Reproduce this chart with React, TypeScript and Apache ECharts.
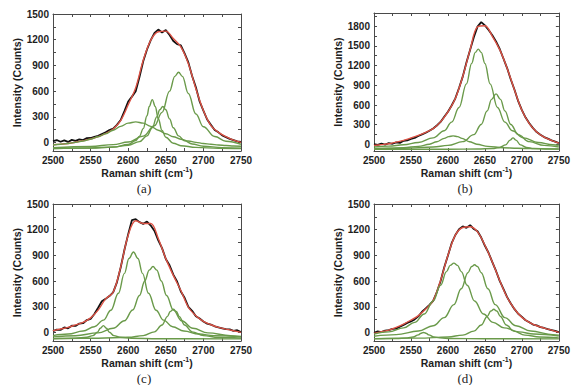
import React, { useEffect, useRef } from "react";
import * as echarts from "echarts";

// sampling positions (Raman shift, cm-1)
const x5 = [2500,2505,2510,2515,2520,2525,2530,2535,2540,2545,2550,2555,2560,2565,2570,2575,2580,2585,2590,2595,2600,2605,2610,2615,2620,2625,2630,2635,2640,2645,2650,2655,2660,2665,2670,2675,2680,2685,2690,2695,2700,2705,2710,2715,2720,2725,2730,2735,2740,2745,2750];
const x10 = [2500,2510,2520,2530,2540,2550,2560,2570,2580,2590,2600,2610,2620,2630,2640,2650,2660,2670,2680,2690,2700,2710,2720,2730,2740,2750];

const xTickLabels = [2500, 2550, 2600, 2650, 2700, 2750];
const yLabels1500 = [0, 300, 600, 900, 1200, 1500];
const yTicks1500 = [0, 150, 300, 450, 600, 750, 900, 1050, 1200, 1350, 1500];
const yLabels1800 = [0, 300, 600, 900, 1200, 1500, 1800];
const yTicks1800 = [0, 150, 300, 450, 600, 750, 900, 1050, 1200, 1350, 1500, 1650, 1800, 1950];

// ---------- panel (a) ----------
const aBlack = [15,28,8,24,6,30,18,36,28,50,52,66,78,98,118,145,162,205,262,365,478,535,598,765,948,1085,1195,1280,1318,1285,1312,1255,1185,1148,1135,1040,935,775,645,478,372,268,205,145,118,82,62,42,28,12,5];
const aFit = [-27,-20,-12,2,20,40,67,105,157,255,440,640,960,1195,1293,1300,1214,1116,920,627,372,196,118,67,27,0];
const aC1 = [-30,-22,-12,1,17,38,66,101,143,188,225,240,225,188,143,101,66,38,17,1,-12,-22,-30,-36,-41,-45];
const aC2 = [[2500,-72],[2550,-67],[2580,-55],[2600,-24],[2610,23],[2615,73],[2620,161],[2625,311],[2628,421],[2632,500],[2636,421],[2640,276],[2645,139],[2650,61],[2660,-10],[2670,-38],[2690,-58],[2720,-68],[2750,-71]];
const aC3 = [[2500,-70],[2550,-65],[2580,-54],[2600,-33],[2615,9],[2625,77],[2632,172],[2638,298],[2642,382],[2646,420],[2650,382],[2655,275],[2660,172],[2667,77],[2675,19],[2685,-18],[2700,-44],[2725,-60],[2750,-66]];
const aC4 = [[2500,-61],[2550,-47],[2580,-26],[2600,5],[2620,74],[2635,195],[2645,351],[2655,599],[2662,772],[2667,820],[2672,772],[2680,572],[2690,332],[2700,183],[2715,69],[2730,14],[2750,-21]];

// ---------- panel (b) ----------
const bBlack = [5,-8,12,-2,20,10,32,24,55,62,85,98,128,152,178,208,242,288,342,422,498,592,702,858,1032,1248,1442,1632,1792,1862,1812,1742,1662,1568,1452,1308,1162,988,832,658,522,408,322,248,188,148,112,88,62,42,20];
const bFit = [-15,-3,10,35,61,98,138,185,240,343,496,700,1033,1442,1790,1805,1646,1442,1160,828,521,317,189,112,61,20];
const bC1 = [[2500,-64],[2520,-59],[2540,-50],[2560,-30],[2575,3],[2585,41],[2595,92],[2601,119],[2607,130],[2613,119],[2619,92],[2629,41],[2639,3],[2654,-30],[2674,-50],[2694,-59],[2714,-64],[2750,-69]];
const bC2 = [[2500,-39],[2520,-26],[2540,-6],[2560,30],[2580,100],[2595,209],[2605,339],[2615,561],[2625,922],[2632,1232],[2637,1401],[2641,1450],[2645,1401],[2650,1232],[2657,922],[2667,561],[2677,339],[2687,209],[2702,100],[2722,30],[2742,-6],[2750,-15]];
const bC3 = [[2500,-65],[2540,-58],[2580,-39],[2600,-15],[2620,42],[2635,149],[2645,304],[2653,510],[2659,686],[2665,770],[2671,686],[2677,510],[2685,304],[2695,149],[2710,42],[2730,-15],[2750,-39]];
const bC4 = [[2500,-75],[2600,-74],[2640,-70],[2660,-62],[2670,-46],[2678,-7],[2684,65],[2688,100],[2692,65],[2698,-7],[2706,-46],[2716,-62],[2736,-70],[2750,-72]];

// ---------- panel (c) ----------
const cBlack = [15,32,30,58,48,78,76,104,108,145,158,215,288,365,392,425,468,585,758,965,1148,1312,1322,1288,1268,1295,1248,1185,1075,985,858,785,675,595,478,405,298,252,188,162,128,102,92,72,58,48,38,36,18,26,5];
const cFit = [20,40,59,88,117,170,260,392,470,764,1136,1304,1273,1273,1097,862,666,490,294,196,129,90,59,39,20,0];
const cC1 = [[2500,-73],[2530,-68],[2545,-57],[2553,-37],[2559,2],[2563,49],[2567,80],[2571,49],[2575,2],[2581,-37],[2589,-57],[2604,-68],[2640,-73],[2750,-75]];
const cC2 = [[2500,-37],[2520,-19],[2540,16],[2555,67],[2567,144],[2577,259],[2587,457],[2595,690],[2601,863],[2607,940],[2613,863],[2619,690],[2627,457],[2637,259],[2647,144],[2659,67],[2674,16],[2694,-19],[2714,-37],[2750,-54]];
const cC3 = [[2500,-52],[2530,-38],[2560,-5],[2580,49],[2595,137],[2606,262],[2615,431],[2622,601],[2628,728],[2633,770],[2638,728],[2644,601],[2651,431],[2660,262],[2671,137],[2686,49],[2706,-5],[2736,-38],[2750,-46]];
const cC4 = [[2500,-72],[2560,-68],[2600,-57],[2620,-37],[2635,7],[2645,86],[2652,185],[2656,244],[2660,270],[2664,244],[2668,185],[2675,86],[2685,7],[2700,-37],[2720,-57],[2750,-67]];

// ---------- panel (d) ----------
const dBlack = [-5,12,4,22,28,42,44,66,88,112,128,152,188,242,282,322,368,472,598,762,898,1042,1138,1205,1238,1222,1252,1208,1182,1108,1012,928,822,718,602,508,412,338,272,218,182,142,118,92,82,62,52,38,28,18,5];
const dFit = [-12,8,27,60,98,145,196,274,372,607,901,1136,1226,1234,1175,1018,823,607,411,274,176,118,78,51,27,0];
const dC1 = [[2500,-74],[2530,-71],[2545,-64],[2553,-53],[2560,-28],[2563,-12],[2567,0],[2571,-12],[2574,-28],[2581,-53],[2589,-64],[2604,-71],[2650,-74],[2750,-75]];
const dC2 = [[2500,-19],[2520,6],[2540,53],[2555,118],[2568,216],[2580,367],[2590,551],[2598,710],[2603,783],[2608,810],[2613,783],[2618,710],[2626,551],[2636,367],[2648,216],[2661,118],[2676,53],[2696,6],[2716,-19],[2750,-42]];
const dC3 = [[2500,-44],[2530,-26],[2560,16],[2580,78],[2595,173],[2608,325],[2618,510],[2627,697],[2632,770],[2636,790],[2640,770],[2645,697],[2654,510],[2664,325],[2677,173],[2692,78],[2712,16],[2742,-26],[2750,-32]];
const dC4 = [[2500,-72],[2560,-67],[2600,-53],[2620,-31],[2635,15],[2645,87],[2653,187],[2658,250],[2662,270],[2666,250],[2671,187],[2679,87],[2689,15],[2704,-31],[2724,-53],[2750,-64]];

const captions = ["(a)", "(b)", "(c)", "(d)"];

const zip = (xs: number[], ys: number[]) => xs.map((x, i) => [x, ys[i]]);

const FONT = "Arial, 'Liberation Sans', sans-serif";
const AXIS_COLOR = "#4a4a4a";
const TEXT_COLOR = "#1e1e1e";
const GREEN = "#6a9a4a";
const RED = "#dc5245";

export default function App() {
  const ref = useRef<HTMLDivElement>(null);
  useEffect(() => {
    if (!ref.current) return;
    const chart = echarts.init(ref.current, null, { renderer: "svg" });

    const panels = [
      { grid: { left: 53, top: 14, width: 188, height: 137 }, yMax: 1500, yLabels: yLabels1500, yTicks: yTicks1500, black: aBlack, fit: aFit, comps: [zip(x10, aC1), aC2, aC3, aC4], yGap: 31 },
      { grid: { left: 374, top: 13, width: 188, height: 138 }, yMax: 2000, yLabels: yLabels1800, yTicks: yTicks1800, black: bBlack, fit: bFit, comps: [bC1, bC2, bC3, bC4], yGap: 30 },
      { grid: { left: 53, top: 204, width: 188, height: 137 }, yMax: 1500, yLabels: yLabels1500, yTicks: yTicks1500, black: cBlack, fit: cFit, comps: [cC1, cC2, cC3, cC4], yGap: 31 },
      { grid: { left: 374, top: 204, width: 188, height: 137 }, yMax: 1500, yLabels: yLabels1500, yTicks: yTicks1500, black: dBlack, fit: dFit, comps: [dC1, dC2, dC3, dC4], yGap: 30 },
    ];

    const grids: any[] = [];
    const xAxes: any[] = [];
    const yAxes: any[] = [];
    const series: any[] = [];
    const graphics: any[] = [];
    const plain = (v: number) => String(v);

    panels.forEach((p, i) => {
      grids.push({ ...p.grid, containLabel: false });
      const xBase = {
        gridIndex: i,
        type: "value",
        min: 2500,
        max: 2750,
        interval: 50,
        splitLine: { show: false },
        axisLine: { show: true, onZero: false, lineStyle: { color: AXIS_COLOR, width: 1 } },
        axisTick: { show: true, inside: true, length: 3, lineStyle: { color: AXIS_COLOR } },
        minorTick: { show: true, splitNumber: 2, length: 3, lineStyle: { color: AXIS_COLOR } },
      };
      xAxes.push({
        ...xBase,
        position: "bottom",
        axisLabel: { show: true, customValues: xTickLabels, formatter: plain, fontSize: 10, fontWeight: "bold", color: TEXT_COLOR, fontFamily: FONT, margin: 4 },
        name: "Raman shift (cm{sup|-1})",
        nameLocation: "middle",
        nameGap: 15,
        nameTextStyle: {
          fontSize: 10.5,
          fontWeight: "bold",
          color: TEXT_COLOR,
          fontFamily: FONT,
          verticalAlign: "top",
          rich: { sup: { fontSize: 7, fontWeight: "bold", color: TEXT_COLOR, fontFamily: FONT, padding: [0, 0, 6, 0] } },
        },
      });
      xAxes.push({ ...xBase, position: "top", axisLabel: { show: false } });

      const yBase = {
        gridIndex: i,
        type: "value",
        min: -100,
        max: p.yMax,
        splitLine: { show: false },
        axisLine: { show: true, onZero: false, lineStyle: { color: AXIS_COLOR, width: 1 } },
        axisTick: { show: true, inside: true, length: 3, customValues: p.yTicks, lineStyle: { color: AXIS_COLOR } },
      };
      yAxes.push({
        ...yBase,
        position: "left",
        axisLabel: { show: true, customValues: p.yLabels, formatter: plain, fontSize: 10, fontWeight: "bold", color: TEXT_COLOR, fontFamily: FONT, margin: 4 },
        name: "Intensity (Counts)",
        nameLocation: "middle",
        nameGap: p.yGap,
        nameTextStyle: { fontSize: 10.5, fontWeight: "bold", color: TEXT_COLOR, fontFamily: FONT },
      });
      yAxes.push({ ...yBase, position: "right", axisLabel: { show: false } });

      const xi = i * 2;
      series.push({
        type: "line",
        xAxisIndex: xi,
        yAxisIndex: xi,
        data: zip(x5, p.black),
        symbol: "none",
        lineStyle: { color: "#111", width: 1.8 },
        z: 2,
      });
      series.push({
        type: "line",
        xAxisIndex: xi,
        yAxisIndex: xi,
        data: zip(x10, p.fit),
        symbol: "none",
        smooth: 0.35,
        lineStyle: { color: RED, width: 1.4 },
        z: 3,
      });
      p.comps.forEach((c) => {
        series.push({
          type: "line",
          xAxisIndex: xi,
          yAxisIndex: xi,
          data: c,
          symbol: "none",
          smooth: 0.4,
          smoothMonotone: "x",
          lineStyle: { color: GREEN, width: 1.4 },
          z: 4,
        });
      });

      graphics.push({
        type: "text",
        x: p.grid.left + p.grid.width / 2 - 3,
        y: i < 2 ? 188 : 378,
        style: {
          text: captions[i],
          fontSize: 13,
          fontFamily: "'Liberation Serif', 'Times New Roman', serif",
          fill: "#222",
          align: "center",
          verticalAlign: "middle",
        },
      });
    });

    chart.setOption({
      animation: false,
      backgroundColor: "#ffffff",
      grid: grids,
      xAxis: xAxes,
      yAxis: yAxes,
      series,
      graphic: graphics,
    });
    return () => chart.dispose();
  }, []);

  return <div ref={ref} style={{ position: "fixed", left: 0, top: 0, width: 573, height: 385 }} />;
}
